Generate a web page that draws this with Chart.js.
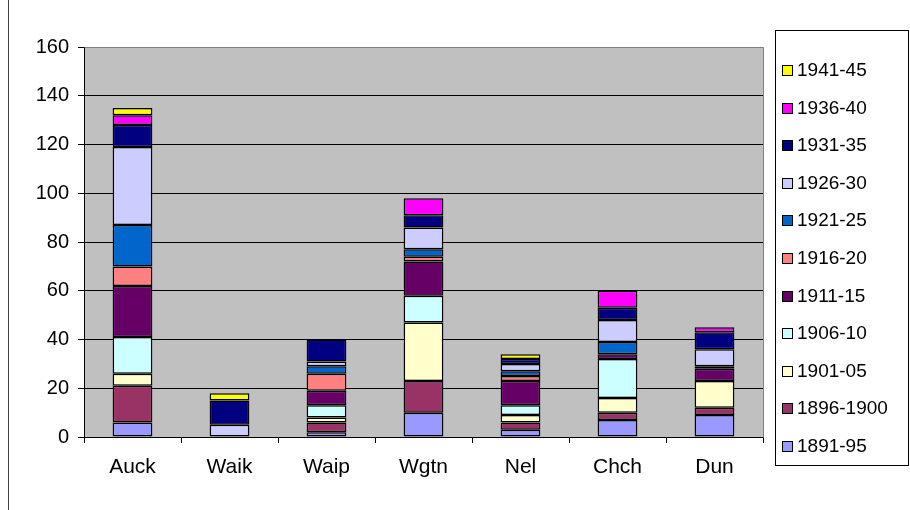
<!DOCTYPE html>
<html>
<head>
<meta charset="utf-8">
<style>
  html, body { margin: 0; padding: 0; background: #fff; }
  canvas { display: block; }
</style>
<script src="https://cdn.jsdelivr.net/npm/chart.js@4/dist/chart.umd.min.js"></script>
</head>
<body>
<canvas id="c" width="910" height="510"></canvas>
<script>
// Regions (x axis)
const categories = ['Auck', 'Waik', 'Waip', 'Wgtn', 'Nel', 'Chch', 'Dun'];

// Five-year periods, counts per region
const p1891_95   = [6, 0, 2, 10, 3, 7, 9];
const p1896_1900 = [15, 0, 4, 13, 3, 3, 3];
const p1901_05   = [5, 0, 2, 24, 3, 6, 11];
const p1906_10   = [15, 0, 5, 11, 4, 16, 0];
const p1911_15   = [21, 0, 6, 14, 10, 2, 5];
const p1916_20   = [8, 0, 7, 2, 2, 0, 0];
const p1921_25   = [17, 0, 3, 3, 2, 5, 1];
const p1926_30   = [32, 5, 2, 9, 3, 9, 7];
const p1931_35   = [9, 10, 9, 5, 2, 5, 7];
const p1936_40   = [4, 0, 0, 7, 0, 7, 2];
const p1941_45   = [3, 3, 0, 0, 2, 0, 0];

const periodLabels = ['1891-95', '1896-1900', '1901-05', '1906-10', '1911-15', '1916-20',
                      '1921-25', '1926-30', '1931-35', '1936-40', '1941-45'];
const periodValues = [p1891_95, p1896_1900, p1901_05, p1906_10, p1911_15, p1916_20,
                      p1921_25, p1926_30, p1931_35, p1936_40, p1941_45];
const periodColors = ['#9999FF', '#993366', '#FFFFCC', '#CCFFFF', '#660066', '#FF8080',
                      '#0066CC', '#CCCCFF', '#000080', '#FF00FF', '#FFFF00'];

// Y axis ticks
const yMin = 0, yMax = 160, yStep = 20;

const FONT = "'Liberation Sans', Arial, sans-serif";
Chart.defaults.font.family = FONT;
Chart.defaults.color = '#000';

const datasets = periodLabels.map((lab, i) => ({
  label: lab,
  data: periodValues[i].map(v => (v === 0 ? null : v)),
  backgroundColor: periodColors[i],
  borderColor: '#000',
  borderWidth: 1.5,
  borderSkipped: false,
  categoryPercentage: 1.0,
  barPercentage: 0.41
}));

// Grey plot background, plot frame, outer frame line and boxed legend
const decor = {
  id: 'decor',
  beforeDraw(chart) {
    const { ctx, chartArea: a } = chart;
    ctx.save();
    ctx.fillStyle = '#fff';
    ctx.fillRect(0, 0, chart.width, chart.height);
    ctx.fillStyle = '#C0C0C0';
    ctx.fillRect(a.left, a.top, a.right - a.left, a.bottom - a.top);
    ctx.restore();
  },
  beforeDatasetsDraw(chart) {
    const { ctx, chartArea: a } = chart;
    ctx.save();
    ctx.strokeStyle = '#808080';
    ctx.lineWidth = 1;
    ctx.beginPath();
    ctx.moveTo(Math.round(a.left) + 0.5, Math.round(a.top) + 0.5);
    ctx.lineTo(Math.round(a.right) + 0.5, Math.round(a.top) + 0.5);
    ctx.lineTo(Math.round(a.right) + 0.5, Math.round(a.bottom) + 0.5);
    ctx.stroke();
    ctx.restore();
  },
  afterDraw(chart) {
    const { ctx } = chart;
    ctx.save();
    // outer frame edge
    ctx.strokeStyle = '#404040';
    ctx.lineWidth = 1;
    ctx.beginPath();
    ctx.moveTo(8.5, 0);
    ctx.lineTo(8.5, chart.height);
    ctx.stroke();

    // legend box
    const lx = 775, ly = 30, lw = 133, lh = 435;
    ctx.strokeStyle = '#000';
    ctx.strokeRect(lx + 0.5, ly + 0.5, lw, lh);
    const ds = chart.data.datasets;
    const n = ds.length;
    const firstY = 70, lastY = 446;
    const step = (lastY - firstY) / (n - 1);
    ctx.font = '19px ' + FONT;
    ctx.textBaseline = 'middle';
    ctx.textAlign = 'left';
    for (let k = 0; k < n; k++) {
      const d = ds[n - 1 - k];
      const cy = Math.round(firstY + k * step);
      ctx.fillStyle = d.backgroundColor;
      ctx.fillRect(782, cy - 5, 10, 10);
      ctx.strokeStyle = '#000';
      ctx.strokeRect(782.5, cy - 4.5, 10, 10);
      ctx.fillStyle = '#000';
      ctx.fillText(d.label, 797, cy + 1);
    }
    ctx.restore();
  }
};

new Chart(document.getElementById('c'), {
  type: 'bar',
  data: { labels: categories, datasets },
  options: {
    responsive: false,
    animation: false,
    devicePixelRatio: 1,
    layout: { padding: { left: 0, right: 147, top: 47, bottom: 0 } },
    plugins: {
      legend: { display: false },
      tooltip: { enabled: false }
    },
    scales: {
      x: {
        stacked: true,
        offset: true,
        grid: {
          offset: true,
          drawOnChartArea: false,
          drawTicks: true,
          tickLength: 6,
          color: '#000'
        },
        border: { display: true, color: '#000', width: 1 },
        ticks: { font: { size: 21 }, color: '#000', padding: 12, maxRotation: 0 },
        afterFit(scale) { scale.height = 73; }
      },
      y: {
        stacked: true,
        min: yMin,
        max: yMax,
        ticks: { stepSize: yStep, font: { size: 20 }, color: '#000', padding: 9 },
        grid: { color: '#000', lineWidth: 1, tickLength: 6, drawTicks: true },
        border: { display: true, color: '#000', width: 1 },
        afterFit(scale) { scale.width = 84; }
      }
    }
  },
  plugins: [decor]
});
</script>
</body>
</html>
